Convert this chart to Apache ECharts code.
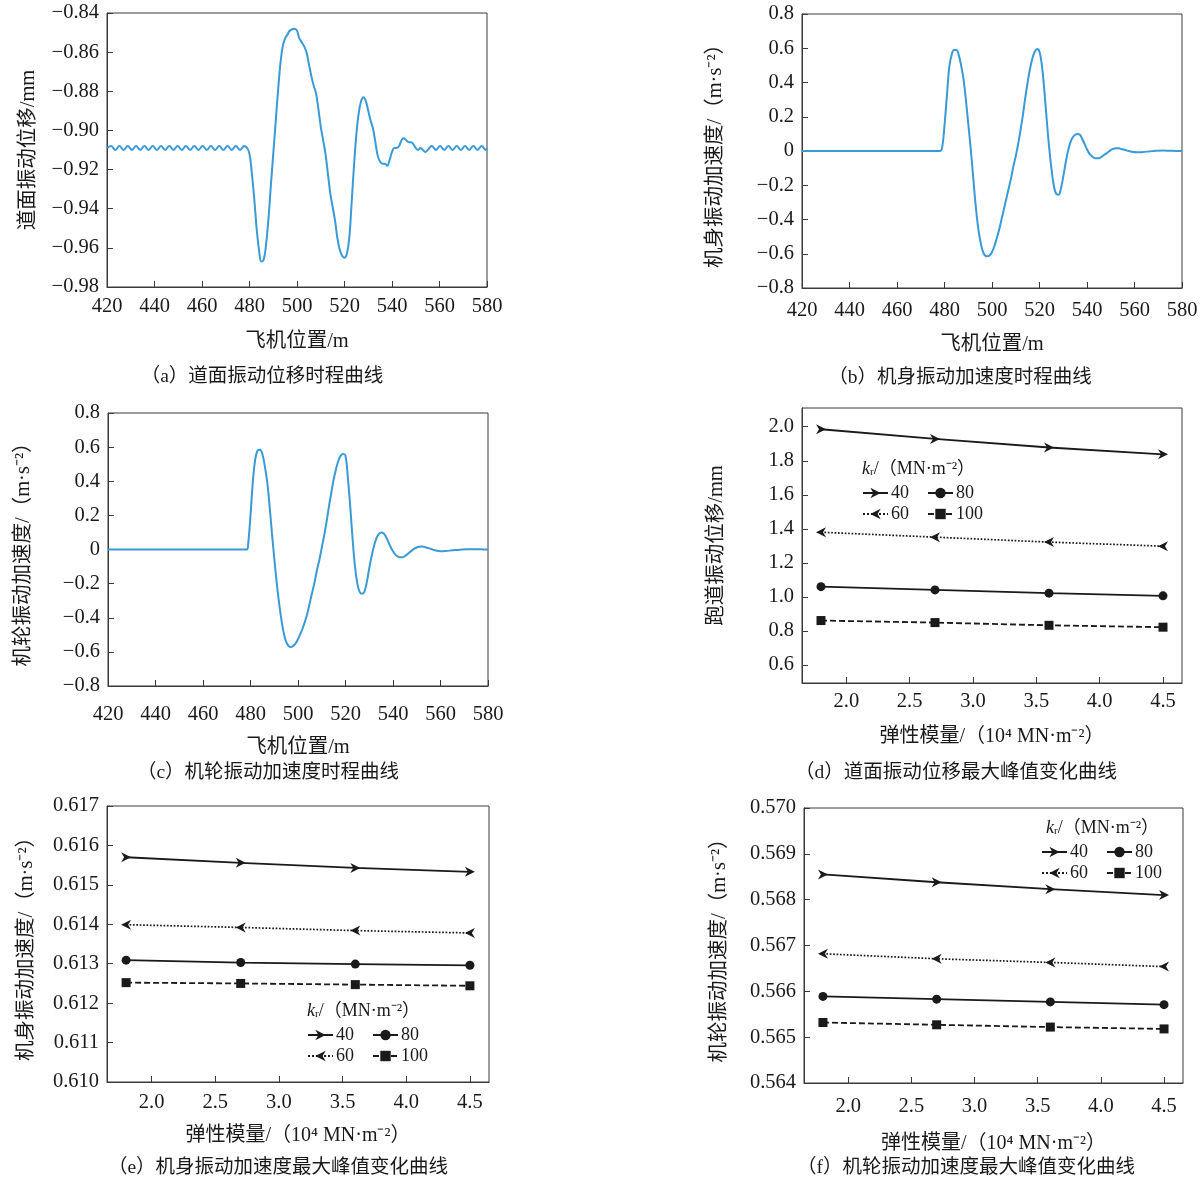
<!DOCTYPE html>
<html>
<head>
<meta charset="utf-8">
<script src="https://cdn.jsdelivr.net/npm/echarts@6/dist/echarts.min.js"></script>
<style>
  html, body { margin: 0; padding: 0; background: #fff; }
  #main { width: 1201px; height: 1183px; }
</style>
</head>
<body>
<div id="main"></div>
<script>
// (a) 道面振动位移时程
var dispPos = [420, 421.75, 423.5, 425.25, 427, 428.75, 430.5, 432.25, 434, 435.75, 437.5, 439.25, 441, 442.75, 444.5, 446.25, 448, 449.75, 451.5, 453.25, 455, 456.75, 458.5, 460.25, 462, 463.75, 465.5, 467.25, 469, 470.75, 472.5, 474.25, 476, 477.75, 479,
  480, 481, 482, 483, 484, 485, 486, 487, 488, 489, 490, 491, 492, 493, 494, 495, 496, 497, 499, 500,
  501, 502, 503, 504, 505, 506, 507, 508, 509, 510, 511, 512, 513, 514, 515, 516, 517, 518, 519, 520,
  521, 522, 523, 524, 525, 526, 527, 528, 529, 530, 531, 532, 533, 534, 535, 536, 537, 538, 539, 540,
  541, 542, 543, 544, 545, 546, 547, 548, 549, 550, 551, 552, 553, 554, 555,
  556.75, 558.5, 560.25, 562, 563.75, 565.5, 567.25, 569, 570.75, 572.5, 574.25, 576, 577.75, 579.5, 580];
var dispVal = [-0.909, -0.908, -0.910, -0.908, -0.910, -0.908, -0.910, -0.908, -0.910, -0.908, -0.910, -0.908, -0.910, -0.908, -0.910, -0.908, -0.910, -0.908, -0.910, -0.908, -0.910, -0.908, -0.910, -0.908, -0.910, -0.908, -0.910, -0.908, -0.910, -0.908, -0.910, -0.908, -0.910, -0.908, -0.909,
  -0.912, -0.922, -0.935, -0.950, -0.961, -0.967, -0.966, -0.958, -0.945, -0.928, -0.912, -0.896, -0.880, -0.866, -0.857, -0.853, -0.851, -0.849, -0.848, -0.849,
  -0.853, -0.855, -0.857, -0.860, -0.866, -0.872, -0.877, -0.881, -0.889, -0.898, -0.905, -0.912, -0.922, -0.932, -0.939, -0.946, -0.955, -0.961, -0.964, -0.965,
  -0.963, -0.955, -0.937, -0.918, -0.902, -0.891, -0.885, -0.883, -0.885, -0.890, -0.895, -0.899, -0.906, -0.913, -0.916, -0.917, -0.917, -0.918, -0.915, -0.911,
  -0.909, -0.909, -0.908, -0.905, -0.904, -0.905, -0.906, -0.906, -0.907, -0.909, -0.910, -0.909, -0.910, -0.911, -0.910,
  -0.908, -0.910, -0.908, -0.910, -0.908, -0.910, -0.908, -0.910, -0.908, -0.910, -0.908, -0.910, -0.908, -0.910, -0.909];

// (b) 机身振动加速度时程
var bodyPos = [420, 478, 479, 480, 481, 482, 483, 484, 485, 486, 487, 488, 489, 490, 491, 492, 493, 494, 495, 496, 497, 498, 499, 500,
  501, 502, 503, 504, 505, 506, 507, 508, 509, 510, 511, 512, 513, 514, 515, 516, 517, 518, 519, 520,
  521, 522, 523, 524, 525, 526, 527, 528, 529, 530, 531, 532, 533, 534, 535, 536, 537, 538, 539, 540,
  541, 542, 543, 544, 545, 546, 547, 548, 549, 550, 551, 552, 553, 554, 555, 557, 559, 561, 563, 566, 569, 572, 575, 578, 580];
var bodyAcc = [0, 0, 0.02, 0.15, 0.32, 0.49, 0.56, 0.59, 0.59, 0.56, 0.50, 0.42, 0.30, 0.16, 0.02, -0.14, -0.30, -0.43, -0.52, -0.58, -0.61, -0.615, -0.61, -0.59,
  -0.555, -0.51, -0.46, -0.40, -0.34, -0.28, -0.22, -0.16, -0.09, -0.03, 0.04, 0.12, 0.21, 0.31, 0.40, 0.48, 0.54, 0.58, 0.595, 0.58,
  0.50, 0.36, 0.19, 0.03, -0.10, -0.20, -0.25, -0.255, -0.22, -0.15, -0.07, 0.00, 0.05, 0.08, 0.095, 0.10, 0.095, 0.07, 0.04, 0.01,
  -0.015, -0.03, -0.04, -0.043, -0.042, -0.035, -0.025, -0.015, -0.005, 0.005, 0.012, 0.016, 0.016, 0.014, 0.010, 0.002, -0.005, -0.008, -0.007, -0.003, 0.002, 0.003, 0.001, 0, 0];

// (c) 机轮振动加速度时程
var wheelPos = [420, 478.5, 479, 480, 481, 482, 483, 484, 485, 486, 487, 488, 489, 490, 491, 492, 493, 494, 495, 496, 497, 498, 499, 500,
  501, 502, 503, 504, 505, 506, 507, 508, 509, 510, 511, 512, 513, 514, 515, 516, 517, 518, 519, 520,
  521, 522, 523, 524, 525, 526, 527, 528, 529, 530, 531, 532, 533, 534, 535, 536, 537, 538, 539, 540,
  541, 542, 543, 544, 545, 546, 547, 548, 549, 550, 551, 552, 553, 554, 556, 558, 560, 562, 565, 568, 571, 574, 577, 580];
var wheelAcc = [0, 0, 0.03, 0.20, 0.40, 0.53, 0.58, 0.585, 0.56, 0.49, 0.40, 0.26, 0.10, -0.05, -0.19, -0.31, -0.41, -0.49, -0.54, -0.565, -0.572, -0.565, -0.55, -0.525,
  -0.495, -0.46, -0.42, -0.37, -0.31, -0.25, -0.19, -0.12, -0.06, 0.01, 0.08, 0.16, 0.25, 0.33, 0.41, 0.47, 0.52, 0.55, 0.56, 0.55,
  0.42, 0.25, 0.06, -0.10, -0.20, -0.25, -0.26, -0.245, -0.19, -0.11, -0.04, 0.02, 0.065, 0.09, 0.10, 0.095, 0.075, 0.045, 0.015, -0.01,
  -0.03, -0.04, -0.045, -0.045, -0.038, -0.028, -0.016, -0.005, 0.005, 0.012, 0.016, 0.018, 0.016, 0.012, 0.003, -0.006, -0.01, -0.009, -0.005, -0.001, 0.002, 0.002, 0.001, 0];

// (d)(e)(f) 峰值随弹性模量变化
var modulus = [1.8, 2.7, 3.6, 4.5];
var krNames = ['40', '60', '80', '100'];
var runway40 = [1.985, 1.928, 1.878, 1.838];
var runway60 = [1.380, 1.351, 1.322, 1.298];
var runway80 = [1.060, 1.041, 1.022, 1.006];
var runway100 = [0.861, 0.849, 0.833, 0.822];
var body40 = [0.61570, 0.61556, 0.61543, 0.61533];
var body60 = [0.61399, 0.61392, 0.61384, 0.61378];
var body80 = [0.61309, 0.61303, 0.61299, 0.61296];
var body100 = [0.61252, 0.61250, 0.61247, 0.61244];
var wheel40 = [0.56855, 0.56838, 0.56823, 0.56810];
var wheel60 = [0.56682, 0.56671, 0.56663, 0.56654];
var wheel80 = [0.56589, 0.56583, 0.56577, 0.56571];
var wheel100 = [0.56532, 0.56527, 0.56522, 0.56518];

var posTicks = [420, 440, 460, 480, 500, 520, 540, 560, 580];
var modTicks = [2.0, 2.5, 3.0, 3.5, 4.0, 4.5];
var runwayTicks = [0.6, 0.8, 1.0, 1.2, 1.4, 1.6, 1.8, 2.0];
var bodyTicks = [0.610, 0.611, 0.612, 0.613, 0.614, 0.615, 0.616, 0.617];
var wheelTicks = [0.564, 0.565, 0.566, 0.567, 0.568, 0.569, 0.570];

var SERIF = '"Liberation Serif", "Noto Sans CJK SC", serif';
var CJK = '"Liberation Serif", "Noto Sans CJK SC", sans-serif';
var INK = '#1a1a1a';
var BLUE = '#3a9ad6';
var TICK_FS = 20.5;
var NAME_FS = 20.5;

function zip(xs, ys) {
    return xs.map(function(x, i) { return [x, ys[i]]; });
}
function minus(s) {
    return String(s).replace('-', '\u2212');
}

var chart = echarts.init(document.getElementById('main'));

var grids = [
    {left: 107, top: 13, width: 380, height: 274},
    {left: 802, top: 14, width: 380, height: 274},
    {left: 108, top: 413, width: 380, height: 273},
    {left: 802, top: 408, width: 380, height: 275},
    {left: 107, top: 806, width: 382, height: 276},
    {left: 804, top: 808, width: 379, height: 275}
].map(function(g) {
    g.show = true;
    g.borderColor = '#3a3a3a';
    g.borderWidth = 1;
    return g;
});

function axisBase(i, name, gap) {
    return {
        type: 'value',
        gridIndex: i,
        name: name,
        nameLocation: 'middle',
        nameGap: gap,
        nameTextStyle: {fontSize: NAME_FS, fontFamily: CJK, color: INK},
        axisLine: {show: true, onZero: false, lineStyle: {color: '#3a3a3a', width: 1}},
        axisTick: {show: true, inside: true, length: 6, lineStyle: {color: '#3a3a3a'}},
        axisLabel: {fontSize: TICK_FS, fontFamily: SERIF, color: INK, margin: 8},
        splitLine: {show: false}
    };
}

function posX(i, gap, margin) {
    var a = axisBase(i, '飞机位置/m', gap);
    a.min = 420; a.max = 580; a.interval = 20;
    a.axisLabel.margin = margin;
    return a;
}
function modX(i, gap, margin) {
    var a = axisBase(i, '弹性模量/（10\u2074 MN\u00b7m\u207b\u00b2）', gap);
    a.nameTextStyle.fontSize = 20;
    a.min = 1.65; a.max = 4.65;
    a.axisLabel.margin = margin;
    a.axisLabel.customValues = modTicks;
    a.axisLabel.formatter = function(v) { return v.toFixed(1); };
    a.axisTick.customValues = modTicks;
    return a;
}

var ax0 = axisBase(0, '道面振动位移/mm', 68);
ax0.min = -0.98; ax0.max = -0.84; ax0.interval = 0.02;
ax0.axisLabel.formatter = function(v) { return minus(v.toFixed(2)); };

var accFmt = function(v) { return Math.abs(v) < 1e-9 ? '0' : minus(v.toFixed(1)); };
var accName = function(part) { return part + '加速度/（m\u00b7s\u207b\u00b2）'; };

var ax1 = axisBase(1, accName('机身振动'), 76);
ax1.min = -0.8; ax1.max = 0.8; ax1.interval = 0.2;
ax1.axisLabel.formatter = accFmt;

var ax2 = axisBase(2, accName('机轮振动'), 74);
ax2.min = -0.8; ax2.max = 0.8; ax2.interval = 0.2;
ax2.axisLabel.formatter = accFmt;

var ax3 = axisBase(3, '跑道振动位移/mm', 75);
ax3.min = 0.494; ax3.max = 2.11;
ax3.axisLabel.customValues = runwayTicks;
ax3.axisTick.customValues = runwayTicks;
ax3.axisLabel.formatter = function(v) { return v.toFixed(1); };

var ax4 = axisBase(4, accName('机身振动'), 70);
ax4.min = 0.610; ax4.max = 0.617;
ax4.axisLabel.customValues = bodyTicks;
ax4.axisTick.customValues = bodyTicks;
ax4.axisLabel.formatter = function(v) { return v.toFixed(3); };

var ax5 = axisBase(5, accName('机轮振动'), 74);
ax5.min = 0.564; ax5.max = 0.570;
ax5.axisLabel.customValues = wheelTicks;
ax5.axisTick.customValues = wheelTicks;
ax5.axisLabel.formatter = function(v) { return v.toFixed(3); };

var krStyle = {
    '40': {symbol: 'path://M0,0L10,5L0,10L3,5Z', size: [10, 10], type: 'solid', width: 1.8},
    '60': {symbol: 'path://M10,0L0,5L10,10L7,5Z', size: [10, 10], type: 'dotted', width: 1.7},
    '80': {symbol: 'circle', size: 9, type: 'solid', width: 1.8},
    '100': {symbol: 'rect', size: 9, type: [6, 3], width: 1.8}
};

function curve(i, xs, ys) {
    return {
        type: 'line', xAxisIndex: i, yAxisIndex: i,
        data: zip(xs, ys), smooth: 0.4, showSymbol: false,
        lineStyle: {color: BLUE, width: 2}, silent: true
    };
}
function peakSeries(i, lists) {
    return krNames.map(function(k, j) {
        var st = krStyle[k];
        return {
            type: 'line', name: k, xAxisIndex: i, yAxisIndex: i,
            data: zip(modulus, lists[j]),
            symbol: st.symbol, symbolSize: st.size,
            itemStyle: {color: INK},
            lineStyle: {color: INK, width: st.width, type: st.type},
            silent: true
        };
    });
}

function legendRow(left, top, names) {
    return {
        left: left, top: top, orient: 'horizontal', padding: 0,
        itemWidth: 25, itemHeight: 13, itemGap: 18,
        selectedMode: false,
        textStyle: {fontSize: 18, fontFamily: SERIF, color: INK, padding: [0, 0, 0, -2]},
        data: names
    };
}

var krRich = {
    k: {fontStyle: 'italic', fontSize: 18, fontFamily: SERIF, fill: INK},
    r: {fontSize: 11, fontFamily: SERIF, fill: INK, verticalAlign: 'bottom', lineHeight: 12},
    u: {fontSize: 18, fontFamily: CJK, fill: INK}
};
function krTitle(x, y) {
    return {
        type: 'text', x: x, y: y,
        style: {
            text: '{k|k}{r|r}{u|/（MN\u00b7m\u207b\u00b2）}',
            rich: krRich, verticalAlign: 'middle', fill: INK
        }
    };
}
function caption(x, y, text) {
    return {
        type: 'text', x: x, y: y,
        style: {text: text, font: '19.5px "Liberation Serif", "Noto Sans CJK SC", serif', fill: INK, align: 'center', verticalAlign: 'middle'}
    };
}

var option = {
    animation: false,
    backgroundColor: '#fff',
    grid: grids,
    xAxis: [posX(0, 44, 9), posX(1, 46, 12), posX(2, 51, 18), modX(3, 44, 8), modX(4, 44, 10), modX(5, 51, 13)],
    yAxis: [ax0, ax1, ax2, ax3, ax4, ax5],
    legend: [
        legendRow(862, 484, ['40', '80']),
        legendRow(862, 505, ['60', '100']),
        legendRow(307, 1026, ['40', '80']),
        legendRow(307, 1047, ['60', '100']),
        legendRow(1041, 843, ['40', '80']),
        legendRow(1041, 864, ['60', '100'])
    ],
    graphic: [
        caption(262, 377, '（a）道面振动位移时程曲线'),
        caption(960, 378, '（b）机身振动加速度时程曲线'),
        caption(268, 773, '（c）机轮振动加速度时程曲线'),
        caption(956, 773, '（d）道面振动位移最大峰值变化曲线'),
        caption(278, 1168, '（e）机身振动加速度最大峰值变化曲线'),
        caption(966, 1168, '（f）机轮振动加速度最大峰值变化曲线'),
        krTitle(862, 469),
        krTitle(307, 1011),
        krTitle(1046, 828)
    ],
    series: [
        curve(0, dispPos, dispVal),
        curve(1, bodyPos, bodyAcc),
        curve(2, wheelPos, wheelAcc)
    ].concat(
        peakSeries(3, [runway40, runway60, runway80, runway100]),
        peakSeries(4, [body40, body60, body80, body100]),
        peakSeries(5, [wheel40, wheel60, wheel80, wheel100])
    )
};

chart.setOption(option);
</script>
</body>
</html>
